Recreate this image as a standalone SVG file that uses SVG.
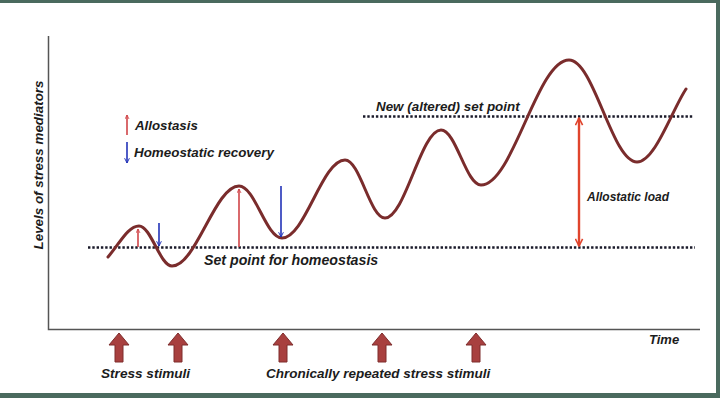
<svg xmlns="http://www.w3.org/2000/svg" width="720" height="398" viewBox="0 0 720 398">
<defs>
<style>
.t{font-family:"Liberation Sans",Arial,sans-serif;font-weight:bold;font-style:italic;fill:#1c1c1c}
.dot{stroke:#1a1a2a;stroke-width:2.6;stroke-dasharray:2.4 1.9;fill:none}
.ax{stroke:#555;stroke-width:1.5;fill:none}
.red{stroke:#d04448;stroke-width:1.6;fill:none}
.blue{stroke:#2233b8;stroke-width:1.6;fill:none}
.load{stroke:#e0442c;stroke-width:2.4;fill:none}
.stim{fill:#a8403f;stroke:#7e2c2c;stroke-width:1}
</style>
<marker id="hr" viewBox="0 0 10 10" refX="9" refY="5" markerWidth="5" markerHeight="5" orient="auto-start-reverse" markerUnits="userSpaceOnUse">
<path d="M1,1 L9,5 L1,9" fill="none" stroke="#d04448" stroke-width="1.6"/>
</marker>
<marker id="hb" viewBox="0 0 10 10" refX="9" refY="5" markerWidth="6" markerHeight="6" orient="auto-start-reverse" markerUnits="userSpaceOnUse">
<path d="M1,1 L9,5 L1,9" fill="none" stroke="#2233b8" stroke-width="1.6"/>
</marker>
<marker id="hl" viewBox="0 0 10 10" refX="9" refY="5" markerWidth="9" markerHeight="9" orient="auto-start-reverse" markerUnits="userSpaceOnUse">
<path d="M1,1 L9,5 L1,9" fill="none" stroke="#e0442c" stroke-width="1.8"/>
</marker>
</defs>
<rect x="0" y="0" width="720" height="398" fill="#ffffff"/>
<g id="frame" fill="#4a6a5e">
<rect x="0" y="0" width="720" height="3"/>
<rect x="716" y="0" width="4" height="398"/>
<rect x="0" y="393" width="720" height="5"/>
</g>
<g id="axes">
<path class="ax" d="M48.5,36 V329.5 H700"/>
<text class="t" font-size="13.4" transform="translate(43,165) rotate(-90)" text-anchor="middle">Levels of stress mediators</text>
<text class="t" font-size="13" x="649" y="344">Time</text>
</g>
<g id="setpoints">
<path class="dot" d="M88,247.5 H695"/>
<text class="t" font-size="14.2" x="204" y="265">Set point for homeostasis</text>
<path class="dot" d="M363,116.5 H693"/>
<text class="t" font-size="13.4" x="376" y="111">New (altered) set point</text>
</g>
<g id="curve">
<path d="M108,257 C120,243 128,226 139,226 C151,226 160,266 172,266 C196,266 215,186 239,186 C255,186 266,238 282,238 C305,238 322,160 345,160 C360,160 370,218 385,218 C405,218 421,130 441,130 C456,130 466,185 481,185 C513,185 537,60 569,60 C594,60 612,162 637,162 C655,162 672,110 686,89" fill="none" stroke="#7a2c2c" stroke-width="3" stroke-linecap="round"/>
</g>
<g id="legend">
<line class="red" x1="127" y1="135" x2="127" y2="115" marker-end="url(#hr)"/>
<text class="t" font-size="13.3" x="135" y="130">Allostasis</text>
<line class="blue" x1="127" y1="142" x2="127" y2="163" marker-end="url(#hb)"/>
<text class="t" font-size="13.4" x="134" y="157">Homeostatic recovery</text>
</g>
<g id="connectors">
<line class="red" x1="138" y1="247" x2="138" y2="229" marker-end="url(#hr)"/>
<line class="red" x1="239" y1="247" x2="239" y2="189" marker-end="url(#hr)"/>
<line class="blue" x1="159" y1="223" x2="159" y2="246" marker-end="url(#hb)"/>
<line class="blue" x1="281" y1="186" x2="281" y2="237" marker-end="url(#hb)"/>
<line class="load" x1="579" y1="118" x2="579" y2="246" marker-start="url(#hl)" marker-end="url(#hl)"/>
</g>
<g id="allostatic-load">
<text class="t" font-size="12" x="587" y="201">Allostatic load</text>
</g>
<g id="stimuli">
<path class="stim" d="M119,333 L129,345 L123,345 L123,362 L115,362 L115,345 L109,345 Z"/>
<path class="stim" d="M178,333 L188,345 L182,345 L182,362 L174,362 L174,345 L168,345 Z"/>
<path class="stim" d="M283,333 L293,345 L287,345 L287,362 L279,362 L279,345 L273,345 Z"/>
<path class="stim" d="M382,333 L392,345 L386,345 L386,362 L378,362 L378,345 L372,345 Z"/>
<path class="stim" d="M476,333 L486,345 L480,345 L480,362 L472,362 L472,345 L466,345 Z"/>
<text class="t" font-size="13.6" x="101" y="378">Stress stimuli</text>
<text class="t" font-size="13.5" x="266" y="378">Chronically repeated stress stimuli</text>
</g>
</svg>
